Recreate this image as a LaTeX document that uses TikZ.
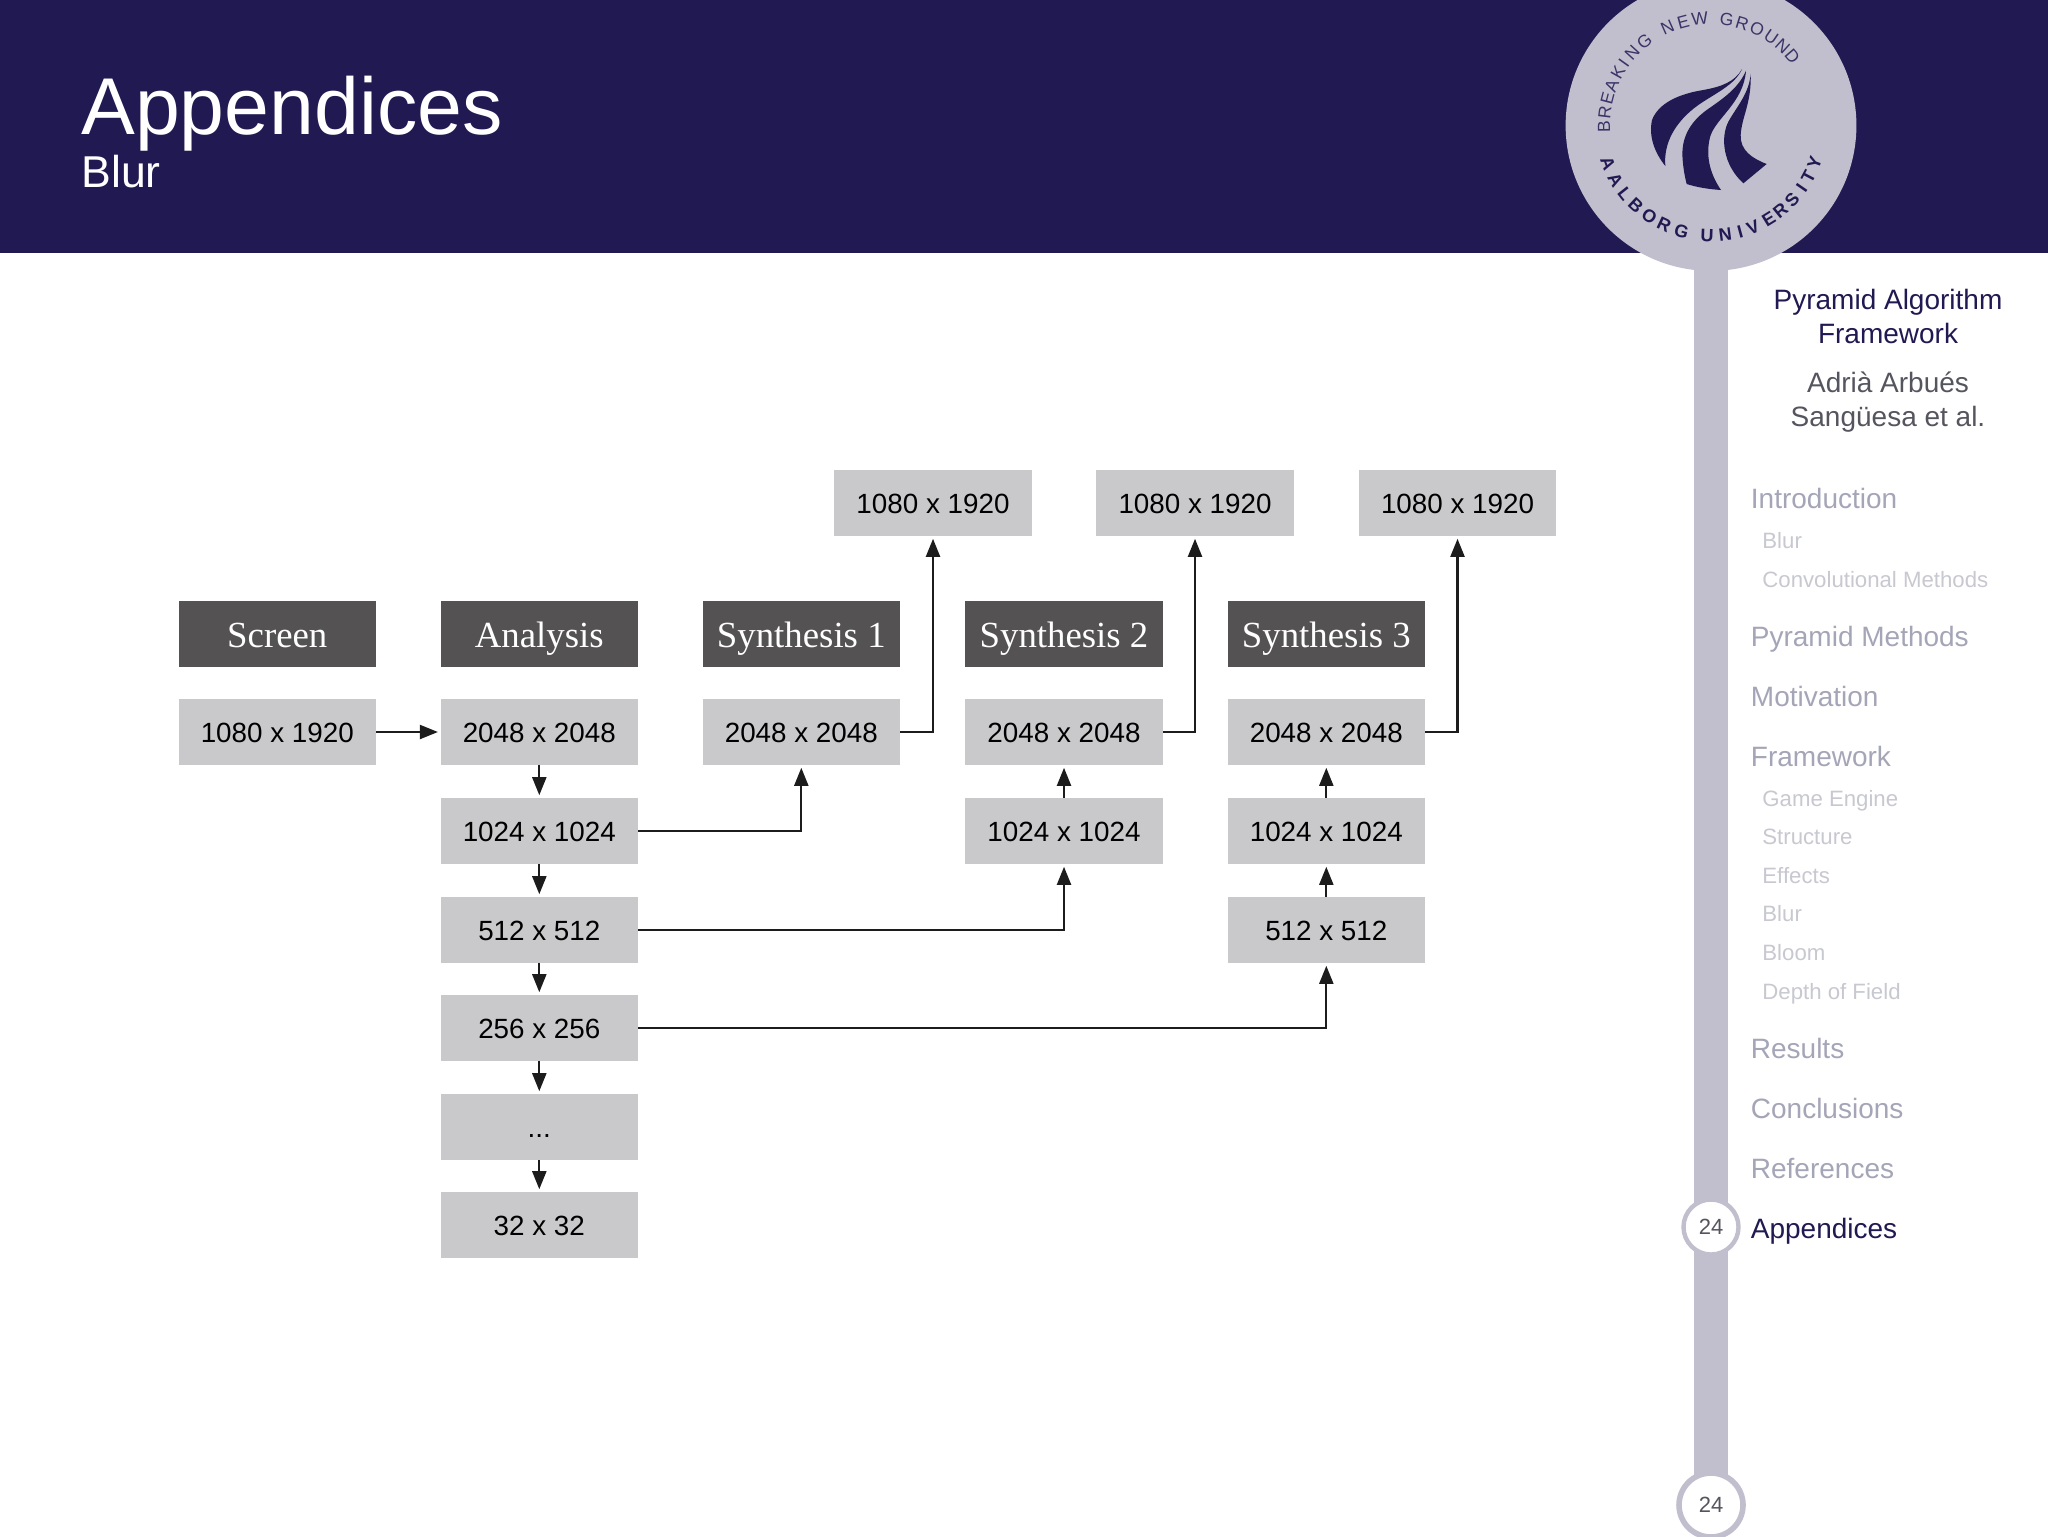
\documentclass[tikz,border=0pt]{standalone}
\usepackage{fontspec}
\setmainfont{Liberation Sans}
\newfontfamily\serifhead{Liberation Serif}
\usetikzlibrary{arrows.meta}
\definecolor{aaunavy}{HTML}{211A52}
\definecolor{aaubar}{HTML}{C1BFCD}
\definecolor{boxgrey}{HTML}{C9C8CA}
\definecolor{headgrey}{HTML}{545253}
\definecolor{navsec}{HTML}{A5A5B8}
\definecolor{navsub}{HTML}{C8C8D1}
\definecolor{pagenum}{HTML}{55555F}
\definecolor{authorgrey}{HTML}{55555F}
\definecolor{linedark}{HTML}{1C1C1C}
\definecolor{mottoink}{HTML}{3A3468}
\tikzset{
  x=0.5pt,y=-0.5pt,
  dimbox/.style={fill=boxgrey,inner sep=0pt,minimum width=98.6pt,minimum height=33pt,text height=10pt,text depth=0pt,font=\fontsize{13.9}{16}\selectfont,text=black},
  headbox/.style={fill=headgrey,inner sep=0pt,minimum width=98.6pt,minimum height=33pt,text height=13pt,text depth=0pt,font=\serifhead\fontsize{18.4}{20}\selectfont,text=white},
  arr/.style={draw=linedark,line width=1.05pt,shorten >=1.2pt,-{Triangle[length=9pt,width=7pt]}},
  navsection/.style={anchor=base west,inner sep=0pt,text=navsec,font=\fontsize{14}{16}\selectfont},
  navsubsection/.style={anchor=base west,inner sep=0pt,text=navsub,font=\fontsize{11.1}{13}\selectfont},
  sidetitle/.style={anchor=base,inner sep=0pt,font=\fontsize{14}{16}\selectfont},
  pagering/.style={circle,draw=aaubar,fill=white,inner sep=0pt,text=pagenum,font=\fontsize{11}{13}\selectfont},
  flame/.style={fill=aaunavy,draw=none},
  mottoletter/.style={inner sep=0pt,text=mottoink,font=\fontsize{8.8}{10}\selectfont},
  nameletter/.style={inner sep=0pt,text=aaunavy,font=\bfseries\fontsize{9}{10}\selectfont}
}
\begin{document}
\begin{tikzpicture}
\useasboundingbox (0,0) rectangle (2048,1536);
\clip (0,0) rectangle (2048,1536);
\fill[white] (0,0) rectangle (2048,1536);
% header band
\fill[aaunavy] (0,0) rectangle (2048,253);
\node[anchor=base west,inner sep=0pt,text=white,font=\fontsize{40.3}{44}\selectfont] (title) at (81,134) {Appendices};
\node[anchor=base west,inner sep=0pt,text=white,font=\fontsize{22.3}{26}\selectfont] (subtitle) at (81,187) {Blur};
% side bar and logo
\fill[aaubar] (1694,200) rectangle (1728,1500);
\fill[aaubar] (1711,125.5) circle[radius=72.7pt];
\begin{scope}[shift={(1640,50)},x=0.16667pt,y=-0.16667pt]
\fill[flame] (306,57) .. controls (285,95) and (245,110) .. (190,120) .. controls (115,132) and (55,160) .. (36,210) .. controls (25,260) and (45,310) .. (76,348) .. controls (70,280) and (105,215) .. (175,165) .. controls (225,130) and (285,105) .. (306,57) -- cycle;
\fill[flame] (318,62) .. controls (295,115) and (250,145) .. (200,180) .. controls (145,220) and (122,270) .. (128,330) .. controls (130,355) and (134,380) .. (140,402) .. controls (170,412) and (210,418) .. (243,420) .. controls (205,365) and (198,310) .. (210,262) .. controls (225,205) and (310,160) .. (318,62) -- cycle;
\fill[flame] (332,70) .. controls (328,130) and (290,170) .. (265,215) .. controls (240,265) and (250,345) .. (310,400) -- (380,342) .. controls (335,325) and (300,300) .. (302,255) .. controls (305,200) and (335,160) .. (332,70) -- cycle;
\end{scope}
\foreach \ch/\ang [count=\i] in {B/180.5,R/173,E/165.5,A/158,K/150.5,I/144.5,N/137.5,G/128.5,N/114,E/105,W/96,G/81.6,R/73,O/64.5,U/55.8,N/48,D/40.5}
  \node[mottoletter,rotate=\ang-90] (motto\i) at ([shift={(\ang:53.5pt)}]1711,125.5) {\ch};
\foreach \ch/\ang [count=\i] in {A/200.4,A/209.6,L/218.4,B/226.8,O/235.9,R/244.7,G/254.4,U/268,N/277.4,I/285.3,V/292.4,E/301.6,R/309.2,S/317.5,I/325.5,T/332.3,Y/340.3}
  \node[nameletter,rotate=\ang+90] (name\i) at ([shift={(\ang:55pt)}]1711,125.5) {\ch};
% side bar texts
\node[sidetitle,text=aaunavy] (st1) at (1888,309) {Pyramid Algorithm};
\node[sidetitle,text=aaunavy] (st2) at (1888,343) {Framework};
\node[sidetitle,text=authorgrey] (st3) at (1888,392) {Adrià Arbués};
\node[sidetitle,text=authorgrey] (st4) at (1888,426) {Sangüesa et al.};
\node[navsection] (n1) at (1750.5,508) {Introduction};
\node[navsubsection] (n2) at (1762,548) {Blur};
\node[navsubsection] (n3) at (1762,587) {Convolutional Methods};
\node[navsection] (n4) at (1750.5,646) {Pyramid Methods};
\node[navsection] (n5) at (1750.5,706) {Motivation};
\node[navsection] (n6) at (1750.5,766) {Framework};
\node[navsubsection] (n7) at (1762,806) {Game Engine};
\node[navsubsection] (n8) at (1762,844) {Structure};
\node[navsubsection] (n9) at (1762,883) {Effects};
\node[navsubsection] (n10) at (1762,921) {Blur};
\node[navsubsection] (n11) at (1762,960) {Bloom};
\node[navsubsection] (n12) at (1762,999) {Depth of Field};
\node[navsection] (n13) at (1750.5,1058) {Results};
\node[navsection] (n14) at (1750.5,1118) {Conclusions};
\node[navsection] (n15) at (1750.5,1178) {References};
\node[navsection,text=aaunavy] (n16) at (1750.5,1238) {Appendices};
\node[pagering,line width=2.2pt,minimum size=27.5pt] (p1) at (1711,1227) {24};
\node[pagering,line width=2.8pt,minimum size=32pt] (p2) at (1711,1505) {24};
% diagram: top row
\node[dimbox] (t1) at (933,503) {1080 x 1920};
\node[dimbox] (t2) at (1195,503) {1080 x 1920};
\node[dimbox] (t3) at (1457.5,503) {1080 x 1920};
% headers
\node[headbox] (hs) at (277.3,634) {Screen};
\node[headbox] (ha) at (539.3,634) {Analysis};
\node[headbox] (h1) at (801.3,634) {Synthesis 1};
\node[headbox] (h2) at (1064,634) {Synthesis 2};
\node[headbox] (h3) at (1326.3,634) {Synthesis 3};
% screen
\node[dimbox] (s0) at (277.3,732) {1080 x 1920};
% analysis
\node[dimbox] (a0) at (539.3,732) {2048 x 2048};
\node[dimbox] (a1) at (539.3,831) {1024 x 1024};
\node[dimbox] (a2) at (539.3,930) {512 x 512};
\node[dimbox] (a3) at (539.3,1028) {256 x 256};
\node[dimbox] (a4) at (539.3,1127) {...};
\node[dimbox] (a5) at (539.3,1225) {32 x 32};
% synthesis
\node[dimbox] (b0) at (801.3,732) {2048 x 2048};
\node[dimbox] (c0) at (1064,732) {2048 x 2048};
\node[dimbox] (c1) at (1064,831) {1024 x 1024};
\node[dimbox] (d0) at (1326.3,732) {2048 x 2048};
\node[dimbox] (d1) at (1326.3,831) {1024 x 1024};
\node[dimbox] (d2) at (1326.3,930) {512 x 512};
% connectors
\draw[arr] (s0) -- (a0);
\draw[arr] (a0) -- (a1);
\draw[arr] (a1) -- (a2);
\draw[arr] (a2) -- (a3);
\draw[arr] (a3) -- (a4);
\draw[arr] (a4) -- (a5);
\draw[arr] (a1.east) -| (b0.south);
\draw[arr] (a2.east) -| (c1.south);
\draw[arr] (a3.east) -| (d2.south);
\draw[arr] (c1) -- (c0);
\draw[arr] (d2) -- (d1);
\draw[arr] (d1) -- (d0);
\draw[arr] (b0.east) -| (t1.south);
\draw[arr] (c0.east) -| (t2.south);
\draw[arr] (d0.east) -| (t3.south);
\end{tikzpicture}
\end{document}
